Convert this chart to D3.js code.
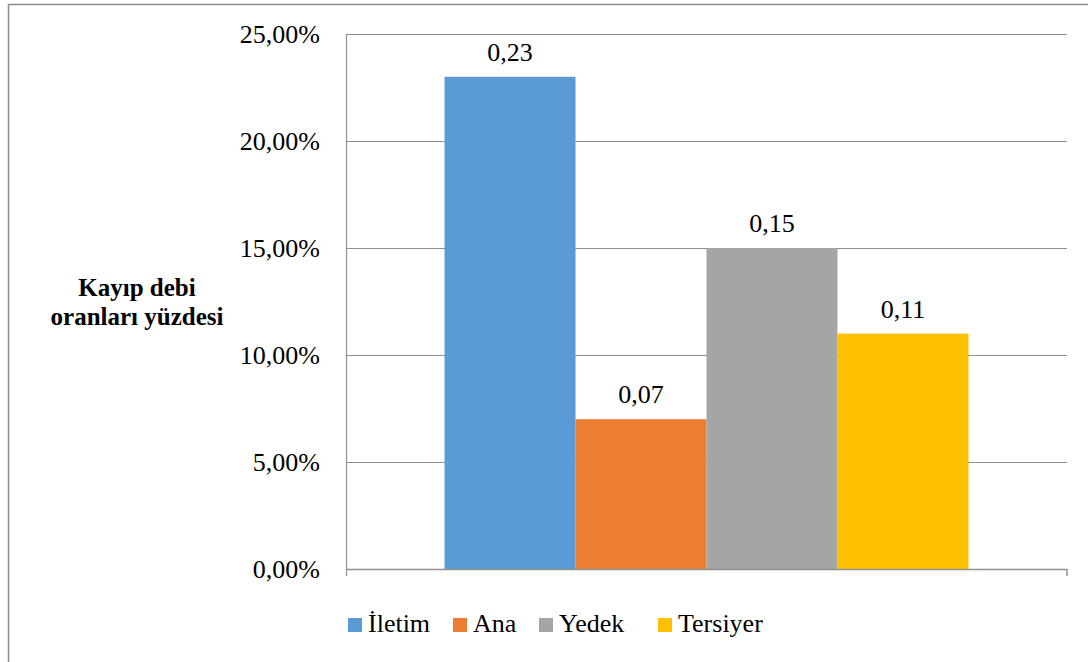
<!DOCTYPE html>
<html>
<head>
<meta charset="utf-8">
<script src="https://cdn.jsdelivr.net/npm/d3@7"></script>
<style>
  #chart, #chart text, #chart tspan { font-family: "Liberation Serif", Tinos, "Times New Roman", Times, serif; }
</style>
</head>
<body style="margin:0;background:#fff">
<svg id="chart" width="1088" height="662" style="display:block"></svg>
<script>
// Kayıp debi oranları (fraction) per network type
const seriesNames = ["İletim", "Ana", "Yedek", "Tersiyer"];
const seriesValues = [0.23, 0.07, 0.15, 0.11];
const seriesColors = ["#5B9BD5", "#ED7D31", "#A5A5A5", "#FFC000"];
const yTicks = [0, 0.05, 0.10, 0.15, 0.20, 0.25];
const yTitleLines = ["Kayıp debi", "oranları yüzdesi"];

const FONT = "Liberation Serif";
const FS = 26;
const svg = d3.select("#chart");
const plot = { left: 346, right: 1067, top: 34, bottom: 569 };

// chart frame (left and top edges visible)
svg.append("rect")
  .attr("x", 8.5).attr("y", 4.5)
  .attr("width", 1200).attr("height", 800)
  .attr("fill", "none").attr("stroke", "#8c8c8c").attr("stroke-width", 1.5);

const y = d3.scaleLinear().domain([0, 0.25]).range([plot.bottom, plot.top]);

// single category band, with series in an inner band
const x0 = d3.scaleBand().domain(["all"]).range([plot.left, plot.right]).paddingInner(0).paddingOuter(0.188);
const x1 = d3.scaleBand().domain(seriesNames).range([x0("all"), x0("all") + x0.bandwidth()]);

const fmt = v => d3.format(".2f")(v * 100).replace(".", ",") + "%";

// gridlines
svg.append("g")
  .selectAll("line")
  .data(yTicks.filter(d => d > 0))
  .join("line")
  .attr("x1", plot.left).attr("x2", plot.right)
  .attr("y1", d => Math.round(y(d)) + 0.5).attr("y2", d => Math.round(y(d)) + 0.5)
  .attr("stroke", "#8f8f8f").attr("stroke-width", 1);

// y axis labels
const yAxis = d3.axisLeft(y).tickValues(yTicks).tickFormat(fmt).tickSize(0).tickPadding(26);
const gy = svg.append("g").attr("transform", `translate(${plot.left},0)`).call(yAxis);
gy.attr("font-family", FONT).attr("font-size", FS);
gy.select(".domain").remove();
gy.selectAll("text")
  .attr("font-family", FONT)
  .attr("font-size", FS).attr("fill", "#000").attr("dy", "0.34em");

// bars
svg.append("g")
  .selectAll("rect")
  .data(seriesNames.map((n, i) => ({ name: n, value: seriesValues[i], color: seriesColors[i] })))
  .join("rect")
  .attr("x", d => x1(d.name))
  .attr("y", d => y(d.value))
  .attr("width", x1.bandwidth())
  .attr("height", d => y(0) - y(d.value))
  .attr("fill", d => d.color);

// value labels
svg.append("g")
  .selectAll("text")
  .data(seriesNames.map((n, i) => ({ name: n, value: seriesValues[i] })))
  .join("text")
  .attr("x", d => x1(d.name) + x1.bandwidth() / 2)
  .attr("y", d => y(d.value) - 16)
  .attr("text-anchor", "middle")
  .attr("font-size", FS)
  .attr("font-family", FONT)
  .text(d => String(d.value).replace(".", ","));

// axes lines
svg.append("line")
  .attr("x1", plot.left + 0.5).attr("x2", plot.left + 0.5)
  .attr("y1", plot.top).attr("y2", plot.bottom + 7)
  .attr("stroke", "#8f8f8f").attr("stroke-width", 1.2);
svg.append("line")
  .attr("x1", plot.left).attr("x2", plot.right + 0.5)
  .attr("y1", plot.bottom + 0.5).attr("y2", plot.bottom + 0.5)
  .attr("stroke", "#8f8f8f").attr("stroke-width", 1.5);
svg.append("line")
  .attr("x1", plot.right).attr("x2", plot.right)
  .attr("y1", plot.bottom).attr("y2", plot.bottom + 7)
  .attr("stroke", "#8f8f8f").attr("stroke-width", 1.5);

// y title
svg.append("text")
  .attr("x", 137).attr("y", 296)
  .attr("text-anchor", "middle")
  .attr("font-size", 25).attr("font-weight", "bold")
  .attr("font-family", FONT)
  .selectAll("tspan")
  .data(yTitleLines)
  .join("tspan")
  .attr("x", 137)
  .attr("dy", (d, i) => i === 0 ? 0 : 29)
  .text(d => d);

// legend
const legendX = [348, 453, 539, 658];
const legend = svg.append("g")
  .selectAll("g")
  .data(seriesNames.map((n, i) => ({ name: n, color: seriesColors[i], x: legendX[i] })))
  .join("g")
  .attr("transform", d => `translate(${d.x},618)`);
legend.append("rect")
  .attr("width", 14).attr("height", 14)
  .attr("fill", d => d.color);
legend.append("text")
  .attr("x", 20).attr("y", 14)
  .attr("font-size", FS)
  .attr("font-family", FONT)
  .text(d => d.name);
</script>
</body>
</html>
